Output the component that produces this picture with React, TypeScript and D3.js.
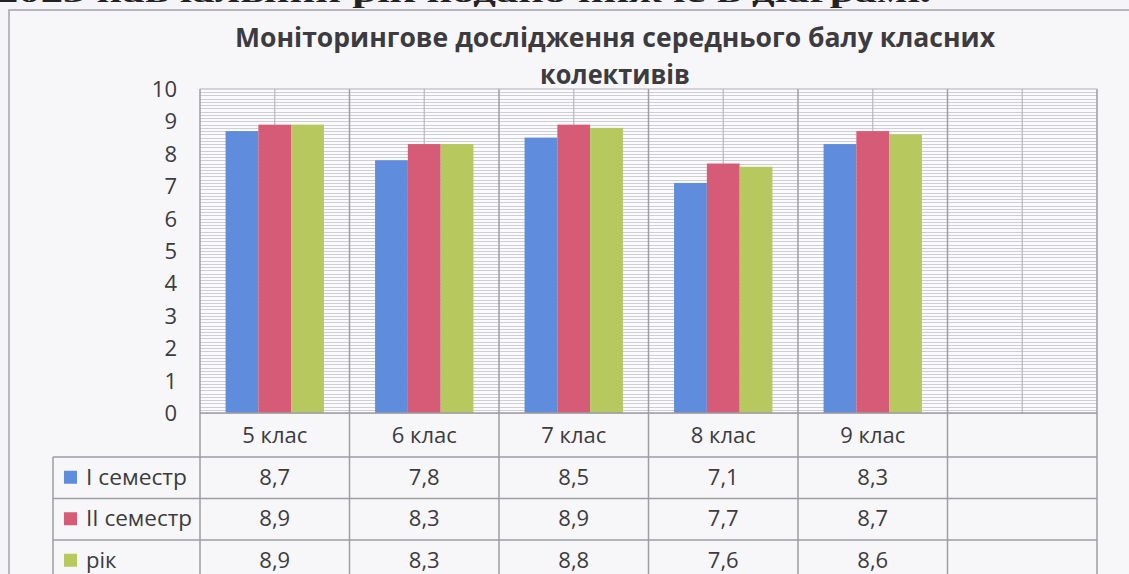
import React from 'react';
import * as d3 from 'd3';

const categories = ['5 клас', '6 клас', '7 клас', '8 клас', '9 клас', ''];
const seriesNames = ['I семестр', 'II семестр', 'рік'];
const semester1 = [8.7, 7.8, 8.5, 7.1, 8.3];
const semester2 = [8.9, 8.3, 8.9, 7.7, 8.7];
const year = [8.9, 8.3, 8.8, 7.6, 8.6];
const yTicks = [0, 1, 2, 3, 4, 5, 6, 7, 8, 9, 10];
const colors = ['#5f8cdc', '#d65b76', '#b6c85e'];

const W = 1129;
const H = 574;
const font = '"Open Sans", "Noto Sans", sans-serif';
const textColor = '#3c3b40';

export default function App() {
  const series = [semester1, semester2, year];
  const x = d3.scaleBand<string>().domain(categories.map((c, i) => String(i))).range([200, 1097]);
  const inner = d3.scaleBand<string>().domain(seriesNames).range([0, x.bandwidth()]).paddingOuter(0.78);
  const y = d3.scaleLinear().domain([0, 10]).range([413, 89]);
  const minor = d3.range(0, 100).map((d) => d / 10);
  const rowH = 41.5;
  const headTop = 413;
  const headBottom = 457;
  const tableLeft = 53;
  const bw = x.bandwidth();
  const fs = 22;

  return (
    <div style={{ position: 'fixed', left: 0, top: 0 }}>
      <svg width={W} height={H} style={{ display: 'block', background: '#f5f4f8' }}>
        {/* cut-off sentence from the page above */}
        <text x={-4} y={2} fontFamily='"Liberation Serif", serif' fontWeight="bold" fontSize={28}
          fill="#222" textLength={935} lengthAdjust="spacingAndGlyphs">
          2023 навчальний рік подано нижче в діаграмі.
        </text>
        <rect x={9} y={10} width={W} height={H} fill="#f7f7f9" stroke="#a3a2a8" strokeWidth={1.5} />

        <text x={615} y={47} textAnchor="middle" fontFamily={font} fontWeight="bold" fontSize={26}
          fill={textColor} textLength={760} lengthAdjust="spacingAndGlyphs">
          Моніторингове дослідження середнього балу класних
        </text>
        <text x={615} y={84} textAnchor="middle" fontFamily={font} fontWeight="bold" fontSize={26}
          fill={textColor} textLength={150} lengthAdjust="spacingAndGlyphs">
          колективів
        </text>

        {/* plot area */}
        <rect x={200} y={y(10)} width={897} height={y(0) - y(10)} fill="#fbfbfd" />
        {minor.map((v) => (
          <line key={v} x1={200} x2={1097} y1={Math.round(y(v)) + 0.5} y2={Math.round(y(v)) + 0.5}
            stroke="#cfced4" strokeWidth={1} />
        ))}
        {categories.map((c, i) => (
          <line key={'m' + i} x1={x(String(i))! + bw / 2} x2={x(String(i))! + bw / 2} y1={y(10)} y2={y(0)}
            stroke="#b9b8be" strokeWidth={1.2} />
        ))}
        {categories.map((c, i) => (
          <line key={'v' + i} x1={x(String(i))!} x2={x(String(i))!} y1={y(10)} y2={H}
            stroke="#9e9da3" strokeWidth={1.5} />
        ))}
        <line x1={1097} x2={1097} y1={y(10)} y2={H} stroke="#9e9da3" strokeWidth={1.5} />
        <line x1={200} x2={1097} y1={y(10)} y2={y(10)} stroke="#b0afb5" strokeWidth={1.2} />

        {/* bars */}
        {series.map((vals, s) =>
          vals.map((v, i) => (
            <rect key={s + '-' + i} x={x(String(i))! + inner(seriesNames[s])!} y={y(v)}
              width={inner.bandwidth()} height={y(0) - y(v)} fill={colors[s]} />
          ))
        )}

        {/* y tick labels */}
        {yTicks.map((t) => (
          <text key={t} x={177} y={y(t)} dy="0.36em" textAnchor="end" fontFamily={font} fontSize={fs}
            fill={textColor}>
            {t}
          </text>
        ))}

        {/* data table */}
        <line x1={200} x2={1097} y1={headTop} y2={headTop} stroke="#9e9da3" strokeWidth={1.5} />
        {[0, 1, 2].map((r) => (
          <line key={'h' + r} x1={tableLeft} x2={1097} y1={headBottom + r * rowH}
            y2={headBottom + r * rowH} stroke="#9e9da3" strokeWidth={1.5} />
        ))}
        <line x1={tableLeft} x2={tableLeft} y1={headBottom} y2={H} stroke="#9e9da3" strokeWidth={1.5} />
        {categories.map((c, i) => (
          <text key={'c' + i} x={x(String(i))! + bw / 2} y={(headTop + headBottom) / 2} dy="0.36em"
            textAnchor="middle" fontFamily={font} fontSize={fs} fill={textColor}>
            {c}
          </text>
        ))}
        {series.map((vals, s) => (
          <g key={'row' + s}>
            <rect x={64} y={headBottom + s * rowH + rowH / 2 - 7} width={13} height={13} fill={colors[s]} />
            <text x={86} y={headBottom + s * rowH + rowH / 2 - 1} dy="0.36em" fontFamily={font} fontSize={fs}
              fill={textColor} textLength={s === 2 ? undefined : s === 0 ? 101 : 106}
              lengthAdjust="spacingAndGlyphs">
              {seriesNames[s]}
            </text>
            {vals.map((v, i) => (
              <text key={i} x={x(String(i))! + bw / 2} y={headBottom + s * rowH + rowH / 2 - 1} dy="0.36em"
                textAnchor="middle" fontFamily={font} fontSize={fs} fill={textColor}>
                {d3.format('.1f')(v).replace('.', ',')}
              </text>
            ))}
          </g>
        ))}
      </svg>
    </div>
  );
}
